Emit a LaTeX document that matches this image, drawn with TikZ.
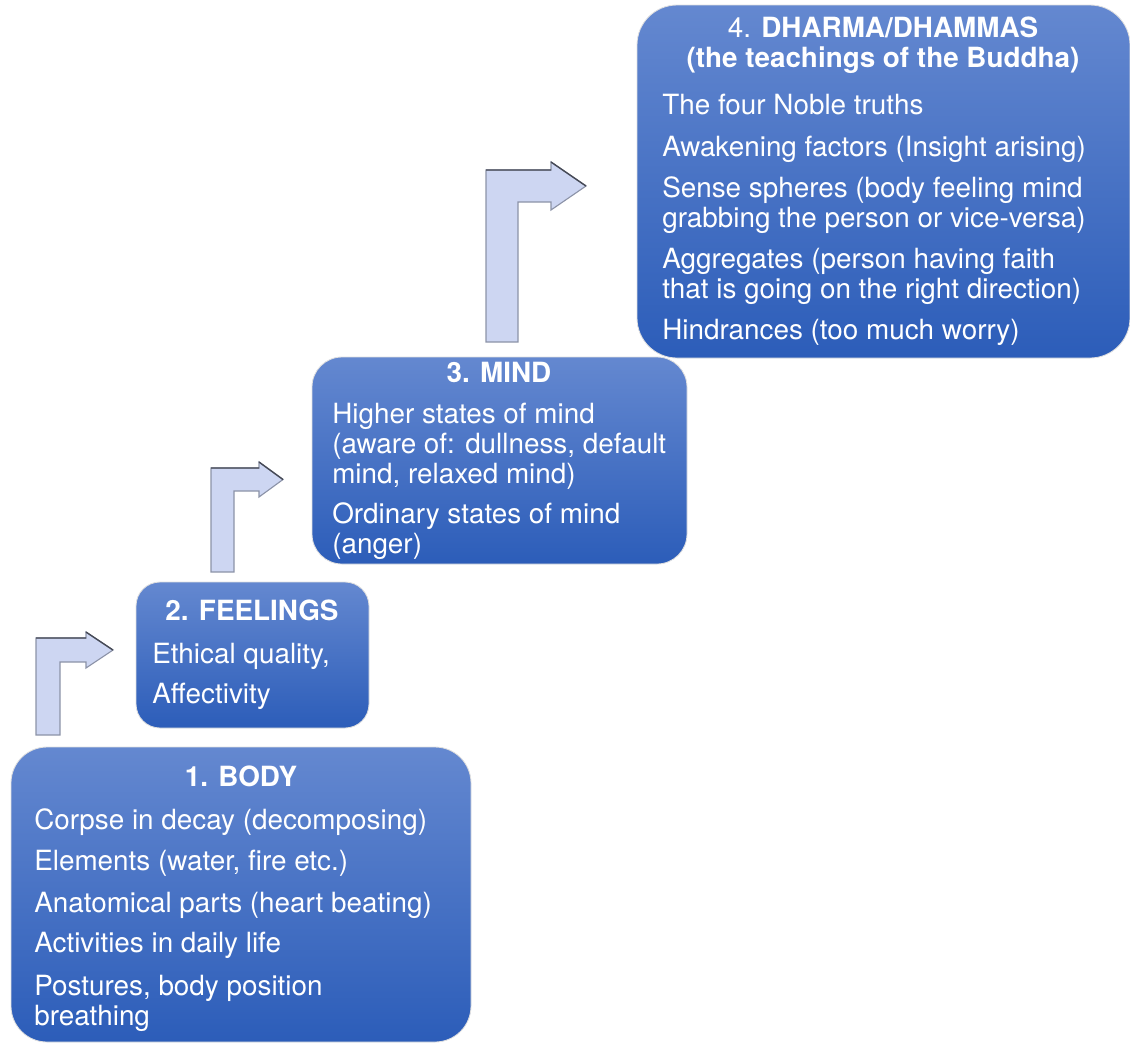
\documentclass[tikz,border=0pt]{standalone}
\usepackage{fontspec}
\setmainfont{TeX Gyre Heros}
\usetikzlibrary{fit}
\definecolor{boxtop}{RGB}{100,136,208}
\definecolor{boxbot}{RGB}{44,93,185}
\definecolor{arrowfill}{RGB}{205,214,242}
\definecolor{arrowline}{RGB}{140,147,168}
\definecolor{arrowedge}{RGB}{70,74,86}

\begin{document}
\begin{tikzpicture}[x=0.025cm, y=-0.025cm,
  stepbox/.style={rectangle, inner sep=0pt, top color=boxtop, bottom color=boxbot, draw=black!12, line width=0.6pt},
  headtext/.style={anchor=base, text=white, align=center, inner sep=0pt, font=\fontsize{19.8}{21.3}\selectfont\bfseries},
  itemtext/.style={anchor=base west, text=white, align=left, inner sep=0pt, font=\fontsize{19.8}{21.3}\selectfont},
  bentarrow/.style={fill=arrowfill, draw=arrowline, line width=0.8pt, line join=miter}]
  \useasboundingbox (0,0) rectangle (1130,1042);

  % the four boxes
  \node[stepbox, rounded corners=0.9cm, fit={(11,747) (471,1042)}] (body) {};
  \node[stepbox, rounded corners=0.6cm, fit={(136,582) (369,728)}] (feel) {};
  \node[stepbox, rounded corners=0.75cm, fit={(312,357) (687,564)}] (mind) {};
  \node[stepbox, rounded corners=1cm, fit={(637,5) (1130,358)}] (dharma) {};

  % bent arrows between the steps
  \foreach \l/\w/\t/\b/\hb/\h/\tip in {36/24/638/735/86/18/113, 211/23/468/572/259/17.5/283, 486/32/170/342/551/24/586} {
    \pgfmathsetmacro{\c}{\t+\w/2}
    \draw[bentarrow] (\l,\b) -- (\l,\t) -- (\hb,\t) -- (\hb,\c-\h) -- (\tip,\c) -- (\hb,\c+\h)
      -- (\hb,\t+\w) -- (\l+\w,\t+\w) -- (\l+\w,\b) -- cycle;
    \draw[arrowedge, line width=1pt] (\l,\t) -- (\hb,\t) (\hb,\c-\h) -- (\tip,\c);
  }

  % 1. body (multi-line nodes sit on their last baseline)
  \node[headtext] (bodyt) at (241,786) {1. BODY};
  \node[itemtext] (body1) at (34,829) {Corpse in decay (decomposing)};
  \node[itemtext] (body2) at (34,870) {Elements (water, fire etc.)};
  \node[itemtext] (body3) at (34,912) {Anatomical parts (heart beating)};
  \node[itemtext] (body4) at (34,952) {Activities in daily life};
  \node[itemtext] (body5) at (34,1025) {Postures, body position\\breathing};

  % 2. feelings
  \node[headtext] (feelt) at (252,620) {2. FEELINGS};
  \node[itemtext] (feel1) at (152,663) {Ethical quality,};
  \node[itemtext] (feel2) at (152,703) {Affectivity};

  % 3. mind
  \node[headtext] (mindt) at (499,382) {3. MIND};
  \node[itemtext] (mind1) at (332,483) {Higher states of mind\\(aware of: dullness, default\\mind, relaxed mind)};
  \node[itemtext] (mind2) at (332,553) {Ordinary states of mind\\(anger)};

  % 4. dharma
  \node[headtext] (dharmat) at (883,67) {{\mdseries 4.} DHARMA/DHAMMAS\\(the teachings of the Buddha)};
  \node[itemtext] (dharma1) at (662,114) {The four Noble truths};
  \node[itemtext] (dharma2) at (662,156) {Awakening factors (Insight arising)};
  \node[itemtext] (dharma3) at (662,227) {Sense spheres (body feeling mind\\grabbing the person or vice-versa)};
  \node[itemtext] (dharma4) at (662,298) {Aggregates (person having faith\\that is going on the right direction)};
  \node[itemtext] (dharma5) at (662,339) {Hindrances (too much worry)};
\end{tikzpicture}
\end{document}
